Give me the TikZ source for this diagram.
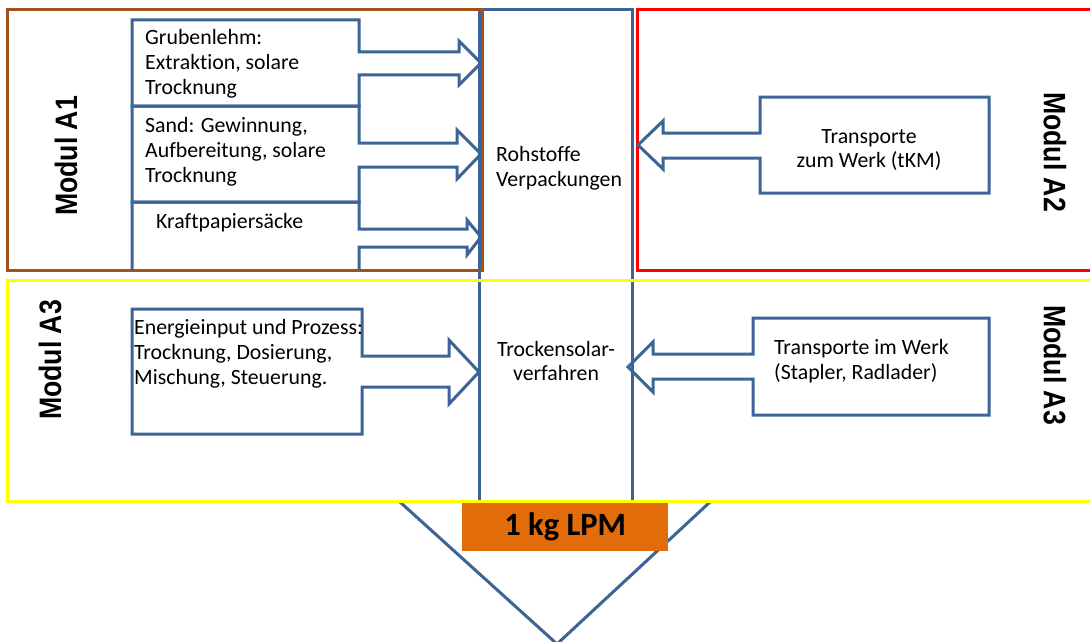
\documentclass[tikz,border=0pt]{standalone}
\usepackage{fontspec}
\setmainfont{Carlito}[Ligatures=CommonOff]
\newfontfamily\modfont{Liberation Sans}
\definecolor{bl}{RGB}{60,100,150}
\definecolor{brn}{RGB}{160,82,30}
\definecolor{rd}{RGB}{255,0,0}
\definecolor{yl}{RGB}{255,255,0}
\definecolor{org}{RGB}{227,108,10}
\tikzset{
  frame/.style={line width=3pt},
  flow/.style={draw=bl, line width=3pt, line join=miter},
  txt/.style={inner sep=0pt, font=\fontsize{21.8}{24.8}\selectfont, align=left},
  ctxt/.style={inner sep=0pt, font=\fontsize{21.8}{24.8}\selectfont, align=center},
  modlbl/.style={inner sep=0pt, font=\modfont\bfseries\fontsize{31}{31}\selectfont},
}
\begin{document}
\begin{tikzpicture}[x=1pt,y=-1pt]
\clip (0,0) rectangle (1090,642);
\fill[white] (0,0) rectangle (1090,642);
% bottom triangle
\draw[flow] (400,502) -- (557,644) -- (710,502);
% central column
\draw[flow] (479,500) -- (479,10) -- (632,10) -- (632,500);
% module frames
\draw[frame, brn] (7,10) rectangle (482,270);
\draw[frame, rd] (637,10) rectangle (1100,270);
% A1 block arrows
\draw[flow] (132,106) -- (132,20) -- (359,20) -- (359,52) -- (459,52) -- (459,41) -- (481,63) -- (459,85) -- (459,75) -- (359,75) -- (359,106) -- cycle;
\draw[flow] (132,106) -- (359,106) -- (359,143) -- (457,143) -- (457,130) -- (481,154) -- (457,179) -- (457,167) -- (359,167) -- (359,202) -- (132,202) -- cycle;
\draw[flow] (132,270) -- (132,202) -- (359,202) -- (359,229) -- (467,229) -- (467,220) -- (481,237) -- (467,255) -- (467,247) -- (359,247) -- (359,270);
% A2 block arrow
\draw[flow] (760,97) -- (989,97) -- (989,193) -- (760,193) -- (760,158) -- (663,158) -- (663,169) -- (638,145) -- (663,121) -- (663,133) -- (760,133) -- cycle;
% A3 left block arrow
\draw[flow] (132,309) -- (362,309) -- (362,356) -- (449,356) -- (449,340) -- (479,372) -- (449,404) -- (449,387) -- (362,387) -- (362,434) -- (132,434) -- cycle;
% A3 right block arrow
\draw[flow] (753,318) -- (989,318) -- (989,415) -- (753,415) -- (753,379) -- (653,379) -- (653,392) -- (628,367) -- (653,342) -- (653,354) -- (753,354) -- cycle;
% A3 frame
\draw[frame, yl] (7,280) rectangle (1100,501);
% functional unit
\node[fill=org, inner sep=0pt, minimum width=206pt, minimum height=48pt, anchor=north west,
      font=\bfseries\fontsize{32.5}{32.5}\selectfont] (lpm) at (462,503) {1 kg LPM};
% texts
\node[txt, anchor=west] (grub) at (145,64) {Grubenlehm:\\Extraktion, solare\\Trocknung};
\node[txt, anchor=west] (sand) at (145,152) {Sand: Gewinnung,\\Aufbereitung, solare\\Trocknung};
\node[txt, anchor=west] (kraft) at (156,223) {Kraftpapiersäcke};
\node[txt, anchor=west] (roh) at (496,168) {Rohstoffe\\Verpackungen};
\node[ctxt] (trock) at (556,361) {Trockensolar-\\verfahren};
\node[txt, anchor=west] (energ) at (134,354) {Energieinput und Prozess:\\Trocknung, Dosierung,\\Mischung, Steuerung.};
\node[ctxt] (tzw) at (869,150) {Transporte\\zum Werk (tKM)};
\node[txt, anchor=west] (tiw) at (774,361) {Transporte im Werk\\(Stapler, Radlader)};
% module labels
\node[modlbl, rotate=90] (ma1) at (66,156) {\scalebox{0.86}[1]{Modul A1}};
\node[modlbl, rotate=90] (ma3l) at (50,360) {\scalebox{0.86}[1]{Modul A3}};
\node[modlbl, rotate=-90] (ma2) at (1055,152) {\scalebox{0.86}[1]{Modul A2}};
\node[modlbl, rotate=-90] (ma3r) at (1055,365) {\scalebox{0.86}[1]{Modul A3}};
\end{tikzpicture}
\end{document}
